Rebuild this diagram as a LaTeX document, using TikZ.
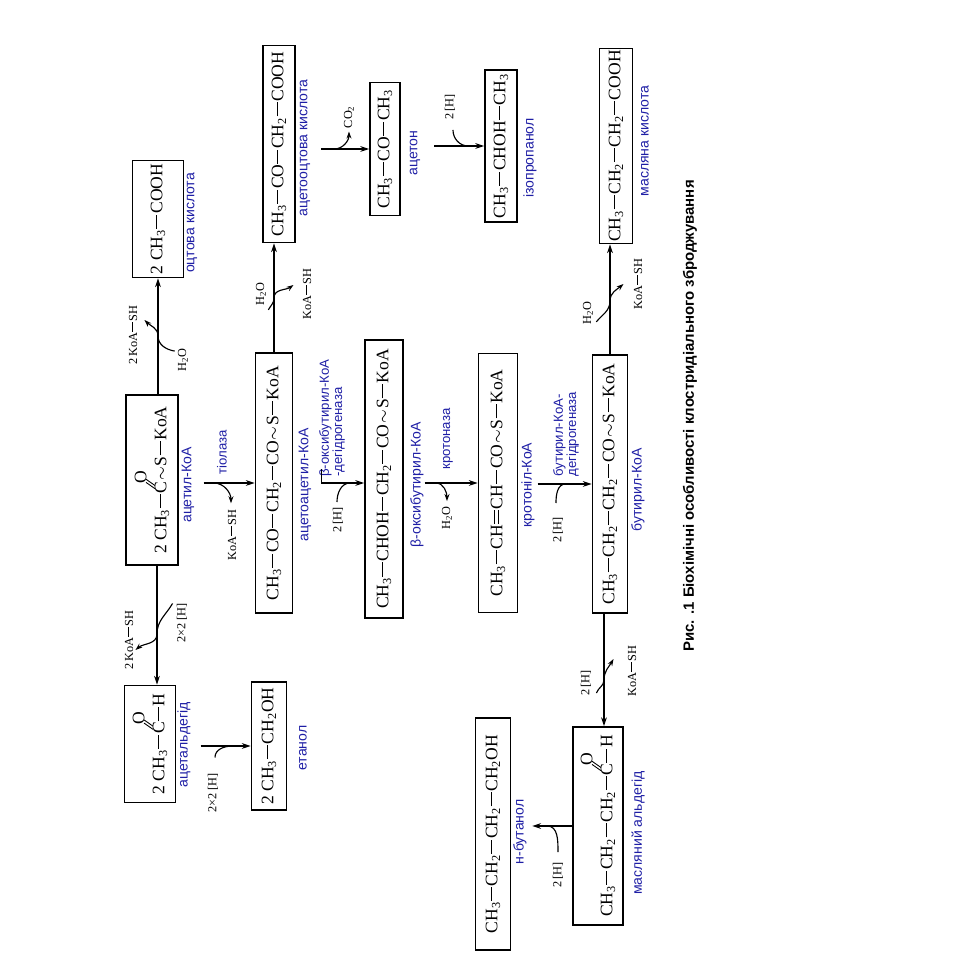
\documentclass[tikz,border=0pt]{standalone}
\usepackage{fontspec}
\setmainfont{Liberation Serif}
\setsansfont{Liberation Sans}
\usepackage{graphicx}
\usetikzlibrary{arrows.meta, positioning, calc}
\definecolor{namecol}{RGB}{30, 30, 165}

\newcommand{\chemfont}{\fontsize{10}{12}\selectfont}
\newcommand{\reagfont}{\fontsize{7}{8}\selectfont}
\newcommand{\namefont}{\sffamily\fontsize{8}{7.4}\selectfont}
\newcommand{\enzfont}{\sffamily\fontsize{7.5}{7.6}\selectfont}
\newcommand{\capfont}{\sffamily\bfseries\fontsize{8.5}{10}\selectfont}
\newcommand{\ix}[1]{\textsubscript{#1}}
\newcommand{\sbond}{\kern0.05em\rule[0.3em]{0.8em}{0.6pt}\kern0.05em}
\newcommand{\dbond}{\kern0.05em\rlap{\rule[0.2em]{0.8em}{0.5pt}}\rule[0.42em]{0.8em}{0.5pt}\kern0.05em}
\newcommand{\wbond}{\kern0.05em$\sim$\kern0.05em}
\newcommand{\carbo}{\rlap{\kern0.24em\raisebox{0.64em}{\rotatebox{55}{\rule{0.62em}{0.5pt}}}}%
  \rlap{\kern0.42em\raisebox{0.64em}{\rotatebox{55}{\rule{0.62em}{0.5pt}}}}%
  \rlap{\kern0.55em\raisebox{1.14em}{O}}C}

\begin{document}
\begin{tikzpicture}[
  x=0.02cm, y=0.02cm, rotate=90, transform shape,
  chembox/.style={draw, line width=0.9pt, inner sep=0pt, font=\chemfont},
  cname/.style={font=\namefont, text=namecol, inner sep=0pt},
  enzyme/.style={font=\enzfont, text=namecol, inner sep=0pt, align=left, anchor=west},
  reagent/.style={font=\reagfont, inner sep=0pt},
  rxn/.style={line width=0.9pt, -{Stealth[length=5pt, width=3.2pt]}},
  sidein/.style={line width=0.65pt},
  sideout/.style={line width=0.65pt, -{Stealth[length=4pt, width=2.8pt]}}
]
  \useasboundingbox (0,0) rectangle (966,966);

  % acetyl-CoA row
  \node[chembox, minimum width=2.34cm, minimum height=1.02cm] (ald) at (222,816) {2 CH\ix{3}\sbond\carbo\sbond H};
  \node[chembox, minimum width=3.4cm, minimum height=1.04cm] (acoa) at (486,814) {2 CH\ix{3}\sbond\carbo\wbond S\sbond KoA};
  \node[chembox, minimum width=2.34cm, minimum height=1.02cm] (acet) at (747,808) {2 CH\ix{3}\sbond COOH};
  \node[cname] (lald) at (221,782) {ацетальдегід};
  \node[cname] (lacoa) at (481,778) {ацетил-КоА};
  \node[cname] (lacet) at (743,774) {оцтова кислота};

  % acetoacetyl-CoA row
  \node[chembox, minimum width=2.56cm, minimum height=0.7cm] (eth) at (220,697) {2 CH\ix{3}\sbond CH\ix{2}OH};
  \node[chembox, minimum width=5.2cm, minimum height=0.74cm] (aacoa) at (483,692) {CH\ix{3}\sbond CO\sbond CH\ix{2}\sbond CO\wbond S\sbond KoA};
  \node[chembox, minimum width=3.94cm, minimum height=0.64cm] (aac) at (822,687) {CH\ix{3}\sbond CO\sbond CH\ix{2}\sbond COOH};
  \node[cname] (leth) at (218,663) {етанол};
  \node[cname] (laacoa) at (481,661) {ацетоацетил-КоА};
  \node[cname] (laac) at (818,661) {ацетооцтова кислота};

  % hydroxybutyryl-CoA row
  \node[chembox, minimum width=5.56cm, minimum height=0.76cm] (hbcoa) at (487,582) {CH\ix{3}\sbond CHOH\sbond CH\ix{2}\sbond CO\wbond S\sbond KoA};
  \node[chembox, minimum width=2.66cm, minimum height=0.6cm] (acn) at (817,581) {CH\ix{3}\sbond CO\sbond CH\ix{3}};
  \node[cname] (lhbcoa) at (481,549) {β-оксибутирил-КоА};
  \node[cname] (lacn) at (813,551) {ацетон};

  % crotonyl-CoA row
  \node[chembox, minimum width=4.64cm, minimum height=0.7cm] (but) at (132,473) {CH\ix{3}\sbond CH\ix{2}\sbond CH\ix{2}\sbond CH\ix{2}OH};
  \node[chembox, minimum width=5.18cm, minimum height=0.78cm] (ccoa) at (483,468) {CH\ix{3}\sbond CH\dbond CH\sbond CO\wbond S\sbond KoA};
  \node[chembox, minimum width=3.04cm, minimum height=0.64cm] (ipr) at (820,465) {CH\ix{3}\sbond CHOH\sbond CH\ix{3}};
  \node[cname] (lbut) at (134,446) {н-бутанол};
  \node[cname] (lccoa) at (481,438) {кротоніл-КоА};
  \node[cname] (lipr) at (808,436) {ізопропанол};

  % butyryl-CoA row
  \node[chembox, minimum width=3.96cm, minimum height=1.0cm] (bald) at (140,368) {CH\ix{3}\sbond CH\ix{2}\sbond CH\ix{2}\sbond\carbo\sbond H};
  \node[chembox, minimum width=5.16cm, minimum height=0.7cm] (bcoa) at (482,356) {CH\ix{3}\sbond CH\ix{2}\sbond CH\ix{2}\sbond CO\wbond S\sbond KoA};
  \node[chembox, minimum width=3.9cm, minimum height=0.66cm] (bac) at (820,350) {CH\ix{3}\sbond CH\ix{2}\sbond CH\ix{2}\sbond COOH};
  \node[cname] (lbald) at (133,328) {масляний альдегід};
  \node[cname] (lbcoa) at (476,328) {бутирил-КоА};
  \node[cname] (lbac) at (825,321) {масляна кислота};

  % enzymes and reagents
  \node[enzyme] (e1) at (491,744) {тіолаза};
  \node[enzyme] (e2) at (489,634) {β-оксибутирил-КоА\\-дегідрогеназа};
  \node[enzyme] (e3) at (496,518) {кротоназа};
  \node[enzyme] (e4) at (489,400) {бутирил-КоА-\\дегідрогеназа};
  \node[reagent] (r1) at (343,784) {2×2\,[H]};
  \node[reagent] (r2) at (326,837) {2\,KoA\sbond SH};
  \node[reagent] (r3) at (606,783) {H\ix{2}O};
  \node[reagent] (r4) at (631,833) {2\,KoA\sbond SH};
  \node[reagent] (r5) at (431,734) {KoA\sbond SH};
  \node[reagent] (r6) at (672,705) {H\ix{2}O};
  \node[reagent] (r7) at (672,659) {KoA\sbond SH};
  \node[reagent] (r8) at (849,617) {CO\ix{2}};
  \node[reagent] (r9) at (859,516) {2\,[H]};
  \node[reagent] (r10) at (446,628) {2\,[H]};
  \node[reagent] (r11) at (448,519) {H\ix{2}O};
  \node[reagent] (r12) at (436,408) {2\,[H]};
  \node[reagent] (r13) at (653,378) {H\ix{2}O};
  \node[reagent] (r14) at (682,328) {KoA\sbond SH};
  \node[reagent] (r15) at (283,380) {2\,[H]};
  \node[reagent] (r16) at (295,334) {KoA\sbond SH};
  \node[reagent] (r17) at (91,408) {2\,[H]};
  \node[reagent] (r18) at (173,753) {2×2\,[H]};

  % acetyl-CoA to acetaldehyde and acetic acid
  \draw[rxn] ($(acoa.west)+(0,-5)$) -- ($(ald.east)+(0,-7)$);
  \draw[sideout] ($(r1.north east)+(0,4)$) to[out=150,in=0] (332,809) to[out=180,in=-50] ($(r2.south)+(-10,-2)$);
  \draw[rxn] ($(acoa.east)+(0,-6)$) -- (acet.west);
  \draw[sideout] ($(r3.north east)+(-3,3)$) to[out=80,in=180] (630,808) to[out=0,in=-135] ($(r4.south)+(15,-7)$);
  \draw[rxn] ($(eth.north)+(0,50)$) -- (eth.north);
  \draw[sidein] ($(r18.east)+(16,-2)$) to[out=0,in=90] ($(eth.north)+(0,18)$);

  % acetyl-CoA to acetoacetyl-CoA
  \draw[rxn] ($(aacoa.north)+(0,51)$) -- (aacoa.north);
  \draw[sideout] ($(aacoa.north)+(0,41)$) to[out=-90,in=0] ($(r5.east)+(6,1)$);

  % acetoacetic acid, acetone, isopropanol
  \draw[rxn] (aacoa.east) -- ($(aac.west)+(0,5)$);
  \draw[sideout] ($(r6.south west)+(-4,-2)$) to[out=-30,in=180] (668,692) to[out=0,in=125] ($(r7.north)+(9,9)$);
  \draw[rxn] ($(acn.north)+(0,48)$) -- (acn.north);
  \draw[sideout] ($(acn.north)+(0,35)$) to[out=-90,in=180] ($(r8.west)+(-3,0)$);
  \draw[rxn] ($(ipr.north)+(0,50)$) -- (ipr.north);
  \draw[sidein] ($(r9.west)+(-10,-3)$) to[out=180,in=90] ($(ipr.north)+(0,16)$);

  % acetoacetyl-CoA down to butyryl-CoA
  \draw[rxn] ($(aacoa.south)+(0,-28)$) -- ($(hbcoa.north)+(-4,0)$);
  \draw[line width=0.6pt] ($(aacoa.south)+(0,-28)$) -- ++(14,0);
  \draw[sidein] ($(r10.east)+(5,1)$) to[out=0,in=90] ($(hbcoa.north)+(-4,14)$);
  \draw[rxn] ($(ccoa.north)+(0,53)$) -- (ccoa.north);
  \draw[sideout] ($(ccoa.north)+(0,42)$) to[out=-90,in=0] ($(r11.east)+(5,0)$);
  \draw[rxn] ($(bcoa.north)+(0,54)$) -- (bcoa.north);
  \draw[sidein] ($(r12.east)+(14,2)$) to[out=0,in=90] ($(bcoa.north)+(0,26)$);

  % butyryl-CoA to butyric acid, butyraldehyde, butanol
  \draw[rxn] (bcoa.east) -- ($(bac.west)+(0,6)$);
  \draw[sideout] ($(r13.south west)+(3,-3)$) to[out=-40,in=180] (665,356) to[out=0,in=130] ($(r14.north)+(0,10)$);
  \draw[rxn] ($(bcoa.west)+(0,6)$) -- ($(bald.east)+(0,-6)$);
  \draw[sideout] ($(r15.south west)+(3,-5)$) to[out=-20,in=180] (286,362) to[out=0,in=150] ($(r16.north)+(12,14)$);
  \draw[rxn] (bald.north) -- ($(bald.north)+(0,40)$);
  \draw[sidein] ($(r17.east)+(10,0)$) to[out=0,in=-90] ($(bald.north)+(0,25)$);

  % caption
  \node[font=\capfont] (cap) at (550,276) {Рис. .1 Біохімічні особливості клостридіального зброджування};
\end{tikzpicture}
\end{document}
